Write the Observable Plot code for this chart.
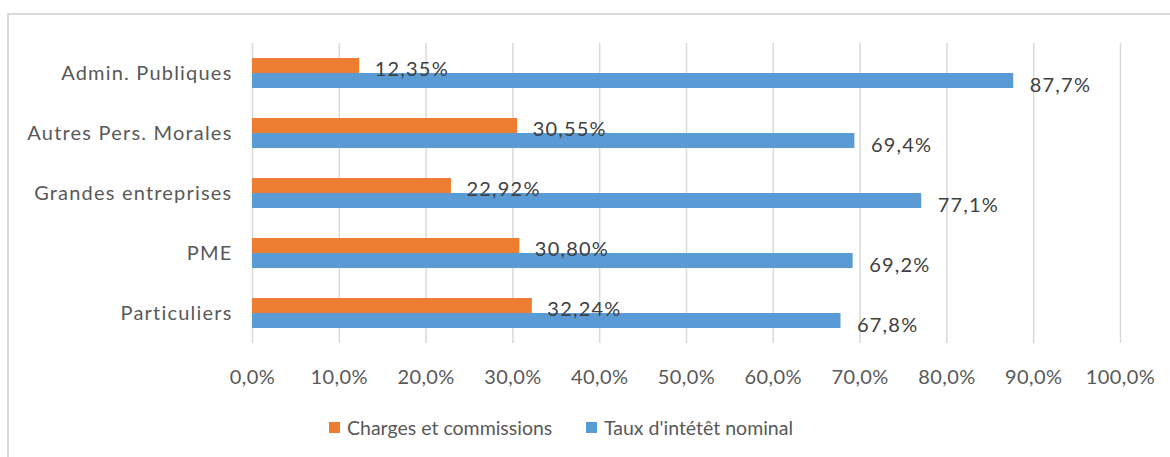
<!DOCTYPE html>
<html>
<head>
<meta charset="utf-8">
<script src="https://cdn.jsdelivr.net/npm/d3@7"></script>
<script src="https://cdn.jsdelivr.net/npm/@observablehq/plot@0.6"></script>
<style>
  html, body { margin: 0; padding: 0; background: #fff; }
  #wrap { position: relative; width: 1170px; height: 457px; overflow: hidden; font-family: "Lato", "Open Sans", sans-serif; }
  #frame { position: absolute; left: 7px; top: 13px; width: 1300px; height: 600px; border: 2px solid #d9d9d9; box-sizing: border-box; }
  #chart { position: absolute; left: 0; top: 0; }
  #chart g[aria-label="y-axis tick label"] text { letter-spacing: 1.2px; }
  #chart g[aria-label="x-axis tick label"] text { letter-spacing: 0.4px; }
  #chart g[aria-label="text"] text { letter-spacing: 1.2px; }
  #legend { position: absolute; left: 0; top: 414px; width: 1170px; height: 26px; }
  .item { position: absolute; top: 0; height: 26px; display: flex; align-items: center; font-size: 19.5px; color: #595959; white-space: nowrap; }
  .sw { width: 11px; height: 11px; margin-right: 7px; }
</style>
</head>
<body>
<div id="wrap">
  <div id="frame"></div>
  <div id="chart"></div>
  <div id="legend"></div>
</div>
<script>
const categories = ["Admin. Publiques", "Autres Pers. Morales", "Grandes entreprises", "PME", "Particuliers"];
const charges = [12.35, 30.55, 22.92, 30.80, 32.24];
const taux = [87.7, 69.4, 77.1, 69.2, 67.8];
const xTicks = [0, 10, 20, 30, 40, 50, 60, 70, 80, 90, 100];
const seriesNames = ["Charges et commissions", "Taux d'intétêt nominal"];
const seriesColors = ["#ED7D31", "#5B9BD5"];

const chargesRows = categories.map((c, i) => ({category: c, value: charges[i], label: charges[i].toFixed(2).replace(".", ",") + "%"}));
const tauxRows = categories.map((c, i) => ({category: c, value: taux[i], label: taux[i].toFixed(1).replace(".", ",") + "%"}));
const fmt = d => d.toFixed(1).replace(".", ",") + "%";

const chart = Plot.plot({
  width: 1170,
  height: 400,
  marginTop: 43,
  marginBottom: 57,
  marginLeft: 252,
  marginRight: 50,
  style: {fontFamily: "Lato, 'Open Sans', sans-serif", color: "#595959", background: "transparent"},
  x: {domain: [0, 100]},
  y: {domain: categories, paddingInner: 0.5, paddingOuter: 0.25},
  marks: [
    Plot.gridX(xTicks, {stroke: "#d9d9d9", strokeOpacity: 1, strokeWidth: 1.5}),
    Plot.axisX({ticks: xTicks, tickSize: 0, tickPadding: 26, tickFormat: fmt, fontSize: 20, label: null, fill: "#595959"}),
    Plot.axisY({tickSize: 0, tickPadding: 20, fontSize: 20, label: null, fill: "#595959"}),
    Plot.barX(chargesRows, {x: "value", y: "category", fill: seriesColors[0], insetBottom: 15}),
    Plot.barX(tauxRows, {x: "value", y: "category", fill: seriesColors[1], insetTop: 15}),
    Plot.text(chargesRows, {x: "value", y: "category", text: "label", textAnchor: "start", dx: 15, dy: -4, fontSize: 20, fill: "#404040"}),
    Plot.text(tauxRows, {x: "value", y: "category", text: "label", textAnchor: "start", dx: 16, dy: 12, fontSize: 20, fill: "#404040"})
  ]
});
document.getElementById("chart").appendChild(chart);

const legend = document.getElementById("legend");
const legendLeft = [329, 586];
seriesNames.forEach((name, i) => {
  const item = document.createElement("div");
  item.className = "item";
  item.style.left = legendLeft[i] + "px";
  const sw = document.createElement("span");
  sw.className = "sw";
  sw.style.background = seriesColors[i];
  const t = document.createElement("span");
  t.textContent = name;
  item.appendChild(sw);
  item.appendChild(t);
  legend.appendChild(item);
});
</script>
</body>
</html>
